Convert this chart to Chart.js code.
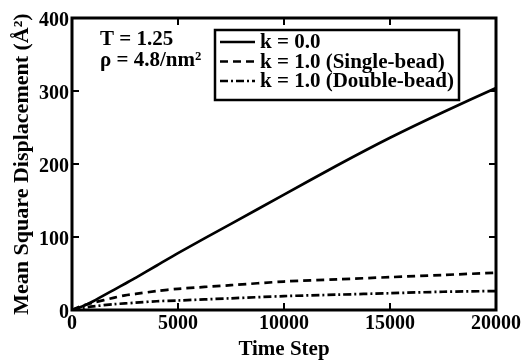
<!DOCTYPE html>
<html>
<head>
<meta charset="utf-8">
<script src="https://cdn.jsdelivr.net/npm/chart.js@4.4.1/dist/chart.umd.min.js"></script>
<style>
  html, body { margin: 0; padding: 0; background: #fff; }
  #wrap { width: 525px; height: 362px; }
</style>
</head>
<body>
<div id="wrap"><canvas id="c" width="525" height="362"></canvas></div>
<script>
// Time steps at which MSD was sampled
const timeSteps = [0, 500, 1000, 2000, 2500, 3000, 4000, 5000, 7500, 10000, 12500, 15000, 17500, 20000];
// Mean square displacement (Å²)
const msdK0 = [0, 5, 12, 28, 36, 44, 61, 78, 118, 158, 198, 236, 271, 304];
const msdSingle = [0, 6, 10, 17, 20, 22, 26, 29, 34, 39, 42, 45, 48, 51];
const msdDouble = [0, 3, 5, 8, 9, 10, 12, 13, 16, 19, 21, 23, 25, 26];
const seriesLabels = ['k = 0.0', 'k = 1.0 (Single-bead)', 'k = 1.0 (Double-bead)'];
const xTicks = [0, 5000, 10000, 15000, 20000];
const yTicks = [0, 100, 200, 300, 400];
const infoLines = ['T = 1.25', 'ρ = 4.8/nm²'];

const FONT = '"Liberation Serif", "Times New Roman", serif';

function pts(values) {
  return timeSteps.map((t, i) => ({ x: t, y: values[i] }));
}

// Frame with inward, mirrored ticks on all four sides
const framePlugin = {
  id: 'frame',
  afterDatasetsDraw(chart) {
    const { ctx, chartArea: a, scales } = chart;
    ctx.save();
    ctx.strokeStyle = '#000';
    ctx.lineWidth = 3;
    ctx.strokeRect(a.left, a.top, a.right - a.left, a.bottom - a.top);
    ctx.lineWidth = 2;
    const L = 7;
    ctx.beginPath();
    xTicks.forEach(v => {
      const x = scales.x.getPixelForValue(v);
      ctx.moveTo(x, a.bottom); ctx.lineTo(x, a.bottom - L);
      ctx.moveTo(x, a.top); ctx.lineTo(x, a.top + L);
    });
    yTicks.forEach(v => {
      const y = scales.y.getPixelForValue(v);
      ctx.moveTo(a.left, y); ctx.lineTo(a.left + L, y);
      ctx.moveTo(a.right, y); ctx.lineTo(a.right - L, y);
    });
    ctx.stroke();
    ctx.restore();
  }
};

// Legend box and state annotation inside the plot
const boxLegendPlugin = {
  id: 'boxLegend',
  afterDraw(chart) {
    const { ctx, chartArea: a } = chart;
    ctx.save();
    ctx.fillStyle = '#000';
    ctx.font = 'bold 21px ' + FONT;
    ctx.textBaseline = 'middle';
    ctx.textAlign = 'left';
    infoLines.forEach((s, i) => ctx.fillText(s, a.left + 28, a.top + 22 + i * 21));

    const bx = a.left + 143, by = a.top + 12, bw = 244, bh = 70;
    ctx.fillStyle = '#fff';
    ctx.fillRect(bx, by, bw, bh);
    ctx.strokeStyle = '#000';
    ctx.lineWidth = 2.5;
    ctx.strokeRect(bx, by, bw, bh);
    ctx.font = 'bold 21px ' + FONT;
    chart.data.datasets.forEach((ds, i) => {
      const y = by + 12 + i * 19.5;
      ctx.save();
      ctx.lineWidth = ds.borderWidth;
      ctx.setLineDash(ds.borderDash || []);
      ctx.beginPath();
      ctx.moveTo(bx + 5, y);
      ctx.lineTo(bx + 40, y);
      ctx.stroke();
      ctx.restore();
      ctx.fillStyle = '#000';
      ctx.fillText(ds.label, bx + 45, y + 1);
    });
    ctx.restore();
  }
};

new Chart(document.getElementById('c'), {
  type: 'line',
  data: {
    datasets: [
      { label: seriesLabels[0], data: pts(msdK0), borderColor: '#000', borderWidth: 2.7, borderDash: [], pointRadius: 0, tension: 0.2, fill: false },
      { label: seriesLabels[1], data: pts(msdSingle), borderColor: '#000', borderWidth: 2.7, borderDash: [8, 5], pointRadius: 0, tension: 0.3, fill: false },
      { label: seriesLabels[2], data: pts(msdDouble), borderColor: '#000', borderWidth: 2.7, borderDash: [8, 3, 2, 3], pointRadius: 0, tension: 0.3, fill: false }
    ]
  },
  options: {
    responsive: false,
    animation: false,
    events: [],
    layout: { padding: { top: 18, right: 29, left: 0, bottom: 0 } },
    plugins: { legend: { display: false }, tooltip: { enabled: false } },
    scales: {
      x: {
        type: 'linear', min: 0, max: 20000,
        afterBuildTicks: s => { s.ticks = xTicks.map(v => ({ value: v })); },
        afterFit: s => { s.height = 52; },
        grid: { display: false, drawTicks: false },
        border: { display: false },
        ticks: { color: '#000', font: { family: FONT, size: 20, weight: 'bold' }, padding: 2, maxRotation: 0, callback: v => String(v) },
        title: { display: true, text: 'Time Step', color: '#000', font: { family: FONT, size: 21, weight: 'bold' }, padding: { top: 0, bottom: 0 } }
      },
      y: {
        type: 'linear', min: 0, max: 400,
        afterBuildTicks: s => { s.ticks = yTicks.map(v => ({ value: v })); },
        afterFit: s => { s.width = 72; },
        grid: { display: false, drawTicks: false },
        border: { display: false },
        ticks: { color: '#000', font: { family: FONT, size: 20, weight: 'bold' }, padding: 3, labelOffset: 3, callback: v => String(v) },
        title: { display: true, text: 'Mean Square Displacement (Å²)', color: '#000', font: { family: FONT, size: 22, weight: 'bold' }, padding: { top: 9, bottom: 0 } }
      }
    }
  },
  plugins: [framePlugin, boxLegendPlugin]
});
</script>
</body>
</html>
